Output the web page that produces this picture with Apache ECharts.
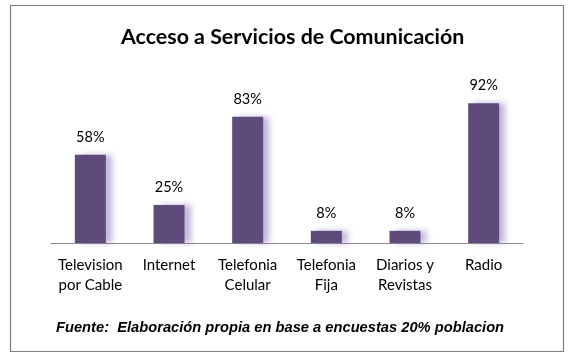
<!DOCTYPE html>
<html><head><meta charset="utf-8">
<script src="https://cdn.jsdelivr.net/npm/echarts@6/dist/echarts.min.js"></script>
<style>html,body{margin:0;padding:0;background:#fff}#c{width:569px;height:358px}</style>
</head><body><div id="c"></div>
<script>
const categories = ['Television\npor Cable', 'Internet', 'Telefonia\nCelular', 'Telefonia\nFija', 'Diarios y\nRevistas', 'Radio'];
const values = [58, 25, 83, 8, 8, 92];
const titleText = 'Acceso a Servicios de Comunicación';
const sourceText = 'Fuente:  Elaboración propia en base a encuestas 20% poblacion';

const chart = echarts.init(document.getElementById('c'), null, {renderer: 'canvas'});
chart.setOption({
  animation: false,
  backgroundColor: '#fff',
  title: {
    text: titleText, left: 116, top: 22,
    textStyle: {fontFamily: 'Lato', fontSize: 21.4, fontWeight: 'bold', color: '#000'}
  },
  graphic: [
    {type: 'rect', shape: {x: 10.5, y: 5.5, width: 553, height: 346}, style: {fill: 'none', stroke: '#7f7f7f', lineWidth: 1.2}, z: -1},
    {type: 'text', left: 56, top: 320, style: {text: sourceText, font: 'italic bold 14.7px "Liberation Sans"', fill: '#000'}}
  ],
  grid: {left: 51, right: 46, top: 91, bottom: 115},
  xAxis: {
    type: 'category', data: categories,
    axisLine: {lineStyle: {color: '#8c8c8c', width: 1}},
    axisTick: {show: false},
    axisLabel: {fontFamily: 'Lato', fontSize: 15, color: '#000', lineHeight: 20, margin: 12, interval: 0}
  },
  yAxis: {type: 'value', min: 0, max: 100, show: false, splitLine: {show: false}},
  series: [{
    type: 'bar', data: values, barWidth: 31,
    itemStyle: {color: '#5e4a7b', shadowColor: 'rgba(110,90,170,0.45)', shadowBlur: 6, shadowOffsetX: 6, shadowOffsetY: 0},
    label: {show: true, position: 'top', distance: 10, formatter: '{c}%', fontFamily: 'Lato', fontSize: 14.5, color: '#000'}
  }]
});
</script></body></html>
